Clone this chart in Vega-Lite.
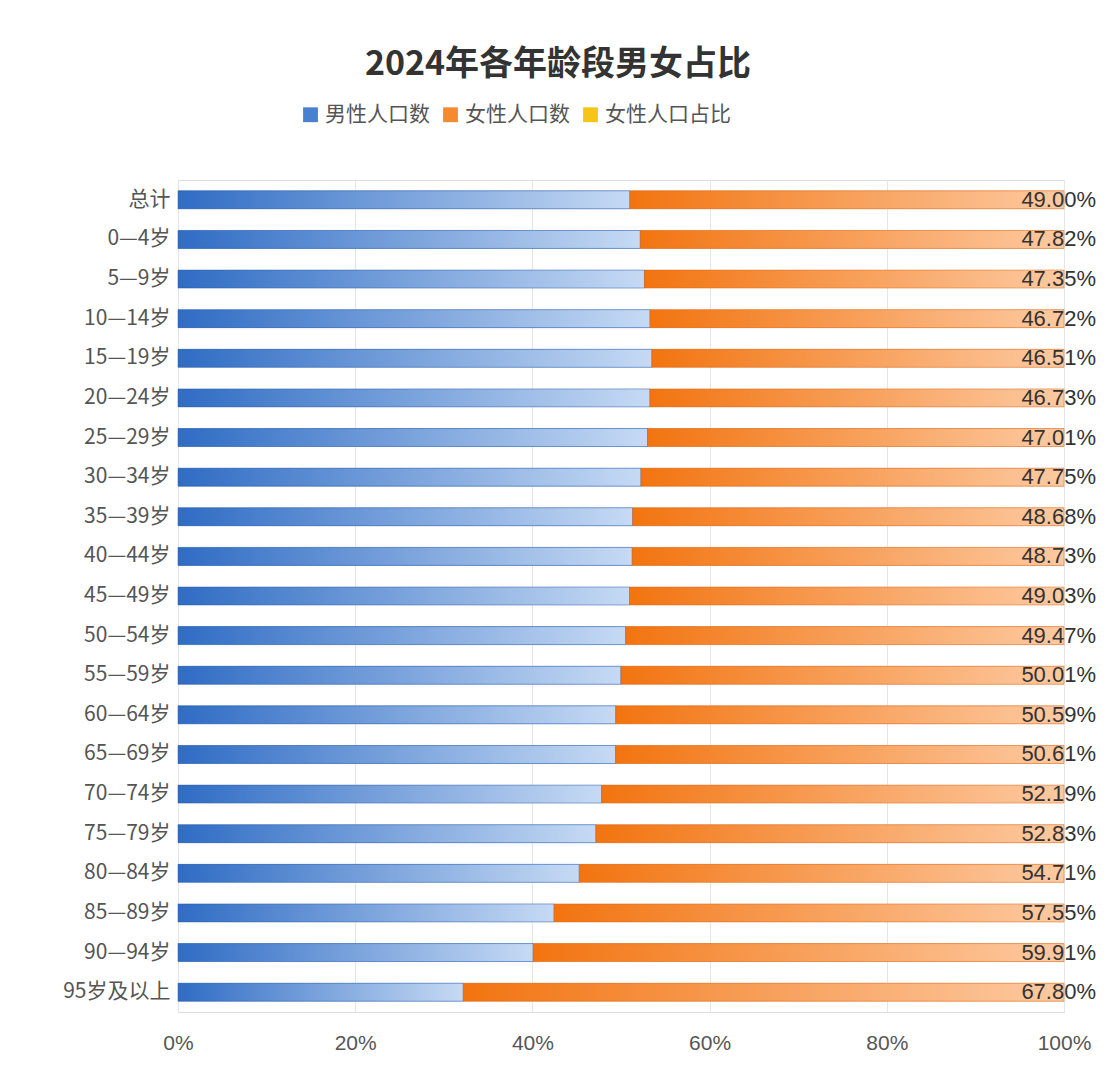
{
  "$schema": "https://vega.github.io/schema/vega-lite/v6.json",
  "width": 886,
  "height": 832,
  "autosize": "none",
  "padding": {"left": 178, "top": 180, "right": 53, "bottom": 68},
  "background": "white",
  "config": {"view": {"stroke": "#ddd"}, "font": "Noto Sans CJK SC"},
  "title": {"text": "2024年各年龄段男女占比", "fontSize": 34, "fontWeight": "bold", "color": "#333", "offset": 22, "anchor": "middle", "dx": -63},
  "data": {"values": [
    {"age": "总计", "female": 49.00},
    {"age": "0—4岁", "female": 47.82},
    {"age": "5—9岁", "female": 47.35},
    {"age": "10—14岁", "female": 46.72},
    {"age": "15—19岁", "female": 46.51},
    {"age": "20—24岁", "female": 46.73},
    {"age": "25—29岁", "female": 47.01},
    {"age": "30—34岁", "female": 47.75},
    {"age": "35—39岁", "female": 48.68},
    {"age": "40—44岁", "female": 48.73},
    {"age": "45—49岁", "female": 49.03},
    {"age": "50—54岁", "female": 49.47},
    {"age": "55—59岁", "female": 50.01},
    {"age": "60—64岁", "female": 50.59},
    {"age": "65—69岁", "female": 50.61},
    {"age": "70—74岁", "female": 52.19},
    {"age": "75—79岁", "female": 52.83},
    {"age": "80—84岁", "female": 54.71},
    {"age": "85—89岁", "female": 57.55},
    {"age": "90—94岁", "female": 59.91},
    {"age": "95岁及以上", "female": 67.80}
  ]},
  "transform": [
    {"calculate": "100 - datum.female", "as": "male"},
    {"calculate": "format(datum.female, '.2f') + '%'", "as": "label"}
  ],
  "encoding": {
    "y": {"field": "age", "type": "nominal", "sort": null, "title": null,
      "axis": {"labelFontSize": 21, "labelColor": "#555", "ticks": false, "domain": false, "labelPadding": 8}}
  },
  "layer": [
    {
      "mark": {"type": "bar", "size": 18},
      "encoding": {
        "x": {"field": "male", "type": "quantitative", "scale": {"domain": [0, 100]}, "title": null,
          "axis": {"values": [0, 20, 40, 60, 80, 100], "labelExpr": "datum.value + '%'", "labelFont": "Liberation Sans", "labelFlush": false, "labelFontSize": 21, "labelColor": "#555", "ticks": false, "domain": false, "gridColor": "#e6e6e6", "labelPadding": 20}},
        "x2": {"datum": 0},
        "color": {"datum": "男性人口数", "type": "nominal",
          "scale": {"domain": ["男性人口数", "女性人口数", "女性人口占比"], "range": ["#4a80d0", "#f58a30", "#f5c518"]},
          "legend": {"title": null, "orient": "none", "legendX": 122, "legendY": -76, "direction": "horizontal", "labelFontSize": 21, "labelColor": "#555", "symbolType": "square", "symbolSize": 220, "columnPadding": 10}}
      }
    },
    {
      "mark": {"type": "bar", "size": 18},
      "encoding": {
        "x": {"field": "male", "type": "quantitative"},
        "x2": {"datum": 100},
        "color": {"datum": "女性人口数", "type": "nominal"}
      }
    },
    {
      "mark": {"type": "bar", "size": 18, "stroke": "#2a5caa", "strokeWidth": 0.5,
        "color": {"gradient": "linear", "x1": 0, "x2": 1, "y1": 0, "y2": 0, "stops": [{"offset": 0, "color": "#2f6cc4"}, {"offset": 1, "color": "#c6daf4"}]}},
      "encoding": {"x": {"field": "male", "type": "quantitative"}, "x2": {"datum": 0}}
    },
    {
      "mark": {"type": "bar", "size": 18, "stroke": "#d9661a", "strokeWidth": 0.5,
        "color": {"gradient": "linear", "x1": 0, "x2": 1, "y1": 0, "y2": 0, "stops": [{"offset": 0, "color": "#f27410"}, {"offset": 1, "color": "#fdcaa2"}]}},
      "encoding": {"x": {"field": "male", "type": "quantitative"}, "x2": {"datum": 100}}
    },
    {
      "mark": {"type": "text", "align": "right", "fontSize": 22, "font": "Liberation Sans", "color": "#333", "dx": 32},
      "encoding": {"x": {"datum": 100}, "text": {"field": "label"}}
    }
  ]
}
